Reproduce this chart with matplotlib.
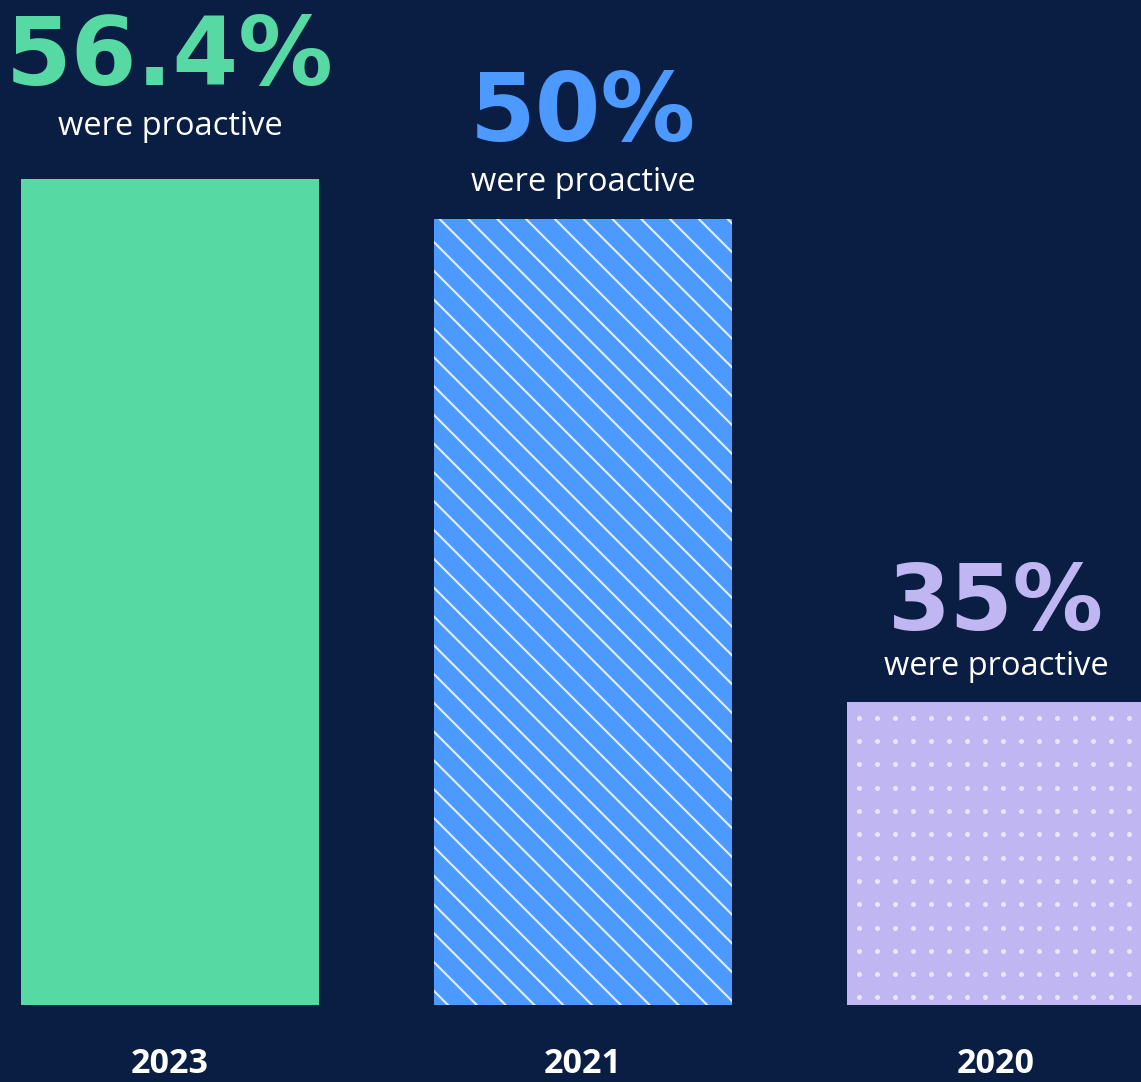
import matplotlib
matplotlib.use("Agg")
import matplotlib.pyplot as plt
from matplotlib.transforms import IdentityTransform
from matplotlib.lines import Line2D
import numpy as np

# ---- data ----
years = ["2023", "2021", "2020"]
values = [56.4, 50, 35]                 # labelled percentages
bar_heights = [56.4, 53.7, 20.7]        # drawn bar heights
value_labels = ["56.4%", "50%", "35%"]
sub_label = "were proactive"

# ---- style ----
BG = "#0A1E43"
colors = ["#57D9A3", "#4C9AFF", "#C0B6F2"]
W, H, DPI = 1141, 1082, 100

fig = plt.figure(figsize=(W / DPI, H / DPI), dpi=DPI, facecolor=BG)
ax = fig.add_axes([0, (H - 1005) / H, 1, 1005 / H])
ax.set_facecolor(BG)
ax.set_xlim(-170 / 413, (W - 170) / 413)
ax.set_ylim(0, 1005 / (826 / 56.4))
ax.axis("off")

x = np.arange(len(years))
bars = ax.bar(x, bar_heights, width=298 / 413, color=colors, linewidth=0, zorder=1)

fig.canvas.draw()

# diagonal stripes on 2021 bar
b = bars[1]
bb = b.get_window_extent()
spacing = 28.8
lines_x0 = np.arange(bb.x0 + 14 - bb.height - spacing * 2, bb.x1 + spacing, spacing)
for x0 in lines_x0:
    xs = [x0, x0 + bb.height + 10]
    ys = [bb.y1, bb.y1 - bb.height - 10]
    ln = Line2D(xs, ys, transform=IdentityTransform(), color="#E3EEFF", lw=1.5,
                zorder=2, solid_capstyle="butt")
    ln.set_clip_path(b)
    fig.add_artist(ln)

# dot grid on 2020 bar
b = bars[2]
bb = b.get_window_extent()
dx = np.arange(bb.x0 + 12, bb.x1, 18.0)
dy = np.arange(bb.y1 - 16, bb.y0, -23.3)
gx, gy = np.meshgrid(dx, dy)
sc = ax.scatter(gx.ravel(), gy.ravel(), s=13, color="#E9E6FF", linewidths=0,
                transform=IdentityTransform(), zorder=2)
sc.set_clip_path(b)

# labels above bars
sub_off = [44, 28, 27]
num_off = [94, 78, 72]
num_fs = [68, 68, 65]
for i, (xi, h) in enumerate(zip(x, bar_heights)):
    ax.annotate(sub_label, (xi, h), xytext=(0, sub_off[i] * 72 / DPI),
                textcoords="offset points", ha="center", va="baseline",
                color="white", fontsize=23.5, family="Open Sans", annotation_clip=False)
    ax.annotate(value_labels[i], (xi, h), xytext=(0, num_off[i] * 72 / DPI),
                textcoords="offset points", ha="center", va="baseline",
                color=colors[i], fontsize=num_fs[i], family="DejaVu Sans", fontweight="bold",
                annotation_clip=False)
    ax.annotate(years[i], (xi, 0), xytext=(0, -76 * 72 / DPI),
                textcoords="offset points", ha="center", va="bottom",
                color="white", fontsize=24.5, family="Open Sans", fontweight="bold",
                annotation_clip=False)

fig.savefig("out.png", dpi=DPI, facecolor=BG)
